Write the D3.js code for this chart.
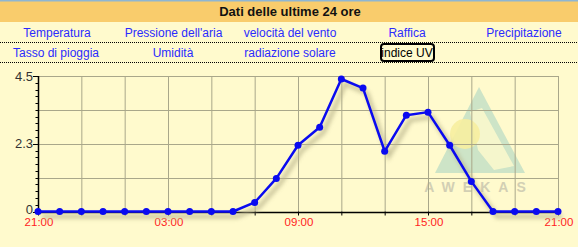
<!DOCTYPE html>
<html><head><meta charset="utf-8">
<script src="https://cdn.jsdelivr.net/npm/d3@7"></script>
<style>
html,body{margin:0;padding:0;background:#fffacd;}
svg{display:block;font-family:"Liberation Sans",Arial,sans-serif;}
</style></head>
<body><svg id="c" width="578" height="247"></svg>
<script>
const title = "Dati delle ultime 24 ore";
const menuRow1 = ["Temperatura","Pressione dell'aria","velocità del vento","Raffica","Precipitazione"];
const menuRow2 = ["Tasso di pioggia","Umidità","radiazione solare","indice UV"];
const activeItem = "indice UV";
const hours = ["21:00","22:00","23:00","00:00","01:00","02:00","03:00","04:00","05:00","06:00","07:00","08:00","09:00","10:00","11:00","12:00","13:00","14:00","15:00","16:00","17:00","18:00","19:00","20:00","21:00"];
const uvValues = [0,0,0,0,0,0,0,0,0,0,0.3,1.1,2.2,2.8,4.4,4.1,2.0,3.2,3.3,2.2,1.0,0,0,0,0];
const xLabelHours = [0,6,12,18,24];
const yTickValues = [0,2.25,4.5];
const yTickLabels = ["0","2.3","4.5"];

const svg = d3.select("#c");
const W = 578;

// header
svg.append("rect").attr("x",0).attr("y",0).attr("width",W).attr("height",22).attr("fill","#f9cc6c");
svg.append("rect").attr("x",0).attr("y",0).attr("width",W).attr("height",1.5).attr("fill","#8fb6d2");
svg.append("text").attr("x",290).attr("y",16).attr("text-anchor","middle")
  .attr("font-size",13).attr("font-weight","bold").attr("fill","#111").text(title);

// menu
const row1 = [57,173.5,290,407,524];
menuRow1.forEach((t,i)=>{
  svg.append("text").attr("x",row1[i]).attr("y",36.5).attr("text-anchor","middle")
    .attr("font-size",12).attr("fill","#2b2bff").text(t);
});
const row2 = [56,173,290,407];
menuRow2.forEach((t,i)=>{
  if(t===activeItem){
    svg.append("rect").attr("x",381).attr("y",44).attr("width",53).attr("height",17).attr("rx",3)
      .attr("fill","#fffacd").attr("stroke","#000").attr("stroke-width",2);
  }
  svg.append("text").attr("x",row2[i]).attr("y",56.5).attr("text-anchor","middle")
    .attr("font-size",12).attr("fill",t===activeItem?"#000":"#2b2bff").text(t);
});
[42.5,62.5].forEach(y=>{
  svg.append("line").attr("x1",0).attr("x2",W).attr("y1",y).attr("y2",y)
    .attr("stroke","#000").attr("stroke-dasharray","1,1");
});

// scales
const x = d3.scaleLinear().domain([0,24]).range([38,558]);
const y = d3.scaleLinear().domain([0,4.5]).range([211.5,76]);

// watermark logo
const wm = svg.append("g");
wm.append("path").attr("d","M479,87 L525,173 L435,173 Z").attr("fill","#bcdcc4").attr("opacity",0.75);
wm.append("path").attr("d","M470,112 L482,108 L514,166 L494,170 L478,150 Z").attr("fill","#fffacd").attr("opacity",0.8);
wm.append("circle").attr("cx",465).attr("cy",134).attr("r",15).attr("fill","#f7eea0").attr("opacity",0.9);
wm.append("text").attr("x",479).attr("y",192).attr("text-anchor","middle").attr("font-size",14)
  .attr("font-weight","bold").attr("letter-spacing",8).attr("fill","#d2cfb4").text("AWEKAS");

// grid
const gridX = d3.range(0,25,2);
const gridY = [0,1.125,2.25,3.375,4.5];
svg.append("g").selectAll("line").data(gridX).join("line")
  .attr("x1",d=>x(d)+0.5).attr("x2",d=>x(d)+0.5).attr("y1",y(4.5)).attr("y2",y(0))
  .attr("stroke","#a9a78a").attr("stroke-width",1);
svg.append("g").selectAll("line").data(gridY).join("line")
  .attr("x1",x(0)).attr("x2",x(24)+0.5).attr("y1",d=>Math.round(y(d))+0.5).attr("y2",d=>Math.round(y(d))+0.5)
  .attr("stroke","#a9a78a").attr("stroke-width",1);

// axes
svg.append("line").attr("x1",x(0)+0.5).attr("x2",x(0)+0.5).attr("y1",y(4.5)).attr("y2",y(0)+0.5).attr("stroke","#000").attr("stroke-width",1.5);
svg.append("line").attr("x1",x(0)).attr("x2",x(24)).attr("y1",Math.round(y(0))+0.5).attr("y2",Math.round(y(0))+0.5).attr("stroke","#000").attr("stroke-width",1.5);
// y minor ticks
const minor = d3.range(0,4.5001,0.225);
svg.append("g").selectAll("line").data(minor).join("line")
  .attr("x1",d=>yTickValues.some(v=>Math.abs(v-d)<1e-6)?33:35.5).attr("x2",x(0))
  .attr("y1",d=>Math.round(y(d))+0.5).attr("y2",d=>Math.round(y(d))+0.5).attr("stroke","#000");
svg.append("g").selectAll("text").data(yTickValues).join("text")
  .attr("x",33).attr("y",d=>d===0?y(d)+2.5:y(d)+4.5).attr("text-anchor","end").attr("font-size",13).attr("fill","#333")
  .text((d,i)=>yTickLabels[i]);
// x ticks
svg.append("g").selectAll("line").data(gridX).join("line")
  .attr("x1",d=>x(d)+0.5).attr("x2",d=>x(d)+0.5).attr("y1",y(0)).attr("y2",y(0)+4).attr("stroke","#000");
svg.append("g").selectAll("text").data(xLabelHours).join("text")
  .attr("x",d=>x(d)+1).attr("y",225.5).attr("text-anchor","middle").attr("font-size",11.5).attr("fill","#ff2222")
  .text(d=>hours[d]);

// shadow
const defs = svg.append("defs");
const f = defs.append("filter").attr("id","sh").attr("x","-10%").attr("y","-10%").attr("width","130%").attr("height","140%");
f.append("feGaussianBlur").attr("stdDeviation",2.2);
const line = d3.line().x((d,i)=>x(i)).y(d=>y(d));
svg.append("path").datum(uvValues).attr("d",line).attr("fill","none")
  .attr("stroke","#b9b48c").attr("stroke-width",4).attr("opacity",0.8)
  .attr("transform","translate(4,5)").attr("filter","url(#sh)");
svg.append("path").datum(uvValues).attr("d",line).attr("fill","none")
  .attr("stroke","#0a0af0").attr("stroke-width",2.5).attr("stroke-linejoin","round");
svg.append("g").selectAll("circle").data(uvValues).join("circle")
  .attr("cx",(d,i)=>x(i)).attr("cy",d=>y(d)).attr("r",3.5).attr("fill","#0a0af0");
</script></body></html>
